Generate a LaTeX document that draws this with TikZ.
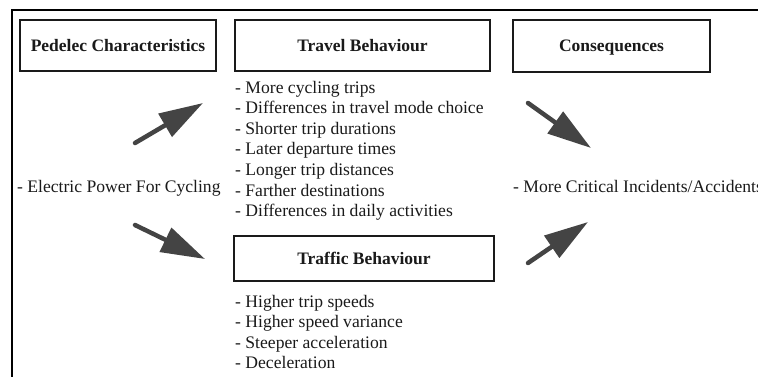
\documentclass[tikz,border=0pt]{standalone}
\usepackage{fontspec}
\setmainfont{Liberation Serif}
\usetikzlibrary{arrows.meta}
\definecolor{arrowgray}{HTML}{444444}
\definecolor{ink}{HTML}{1A1A1A}
\tikzset{
  titlebox/.style={draw=ink, line width=2pt, inner sep=0pt, text height=11.6pt, text depth=0pt,
    font=\fontsize{17.5}{20.6}\selectfont\bfseries, text=ink},
  listtext/.style={anchor=base west, align=left, inner sep=0pt, text=ink,
    font=\fontsize{17.6}{20.6}\selectfont},
  bigarrow/.style={draw=arrowgray, fill=arrowgray, line width=4.5pt, line cap=round,
    -{Triangle[length=44pt,width=26pt]}}
}
\begin{document}
\begin{tikzpicture}[x=1pt,y=-1pt]
\useasboundingbox (0,0) rectangle (758,376);
\clip (0,0) rectangle (758,376);
% outer frame (cropped)
\draw[line width=2.2pt, draw=black] (12,420) -- (12,10) -- (800,10) -- (800,420);
% title boxes
\node[titlebox, minimum width=196pt, minimum height=51pt] (pedelec) at (118,45.5) {Pedelec Characteristics};
\node[titlebox, minimum width=255pt, minimum height=51pt] (travel) at (362.5,45.5) {Travel Behaviour};
\node[titlebox, minimum width=197pt, minimum height=52pt] (conseq) at (611.5,46) {Consequences};
\node[titlebox, minimum width=260pt, minimum height=45pt] (traffic) at (364,258.5) {Traffic Behaviour};
% texts (base anchor = baseline of the last line)
\node[listtext] (electric) at (17,192) {- Electric Power For Cycling};
\node[listtext] (critical) at (513,192) {- More Critical Incidents/Accidents};
\node[listtext] (travellist) at (235,216.6) {- More cycling trips\\- Differences in travel mode choice\\- Shorter trip durations\\- Later departure times\\- Longer trip distances\\- Farther destinations\\- Differences in daily activities};
\node[listtext] (trafficlist) at (235,368.8) {- Higher trip speeds\\- Higher speed variance\\- Steeper acceleration\\- Deceleration};
% arrows
\coordinate (a1s) at (135,143); \coordinate (a1e) at (203,103);
\coordinate (a2s) at (135,225); \coordinate (a2e) at (205,259);
\coordinate (a3s) at (528,103); \coordinate (a3e) at (591,148);
\coordinate (a4s) at (528,263); \coordinate (a4e) at (588,222);
\draw[bigarrow] (a1s) -- (a1e);
\draw[bigarrow] (a2s) -- (a2e);
\draw[bigarrow] (a3s) -- (a3e);
\draw[bigarrow] (a4s) -- (a4e);
\end{tikzpicture}
\end{document}
